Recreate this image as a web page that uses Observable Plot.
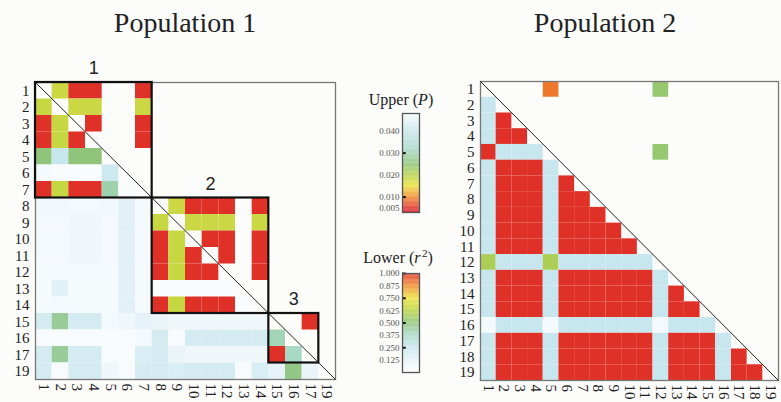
<!DOCTYPE html>
<html>
<head>
<meta charset="utf-8">
<script src="https://cdn.jsdelivr.net/npm/d3@7"></script>
<script src="https://cdn.jsdelivr.net/npm/@observablehq/plot@0.6"></script>
<style>
  html, body { margin: 0; padding: 0; background: #fcfcfa; }
  #root { position: relative; width: 781px; height: 402px; overflow: hidden; background: #fcfcfa; }
  #root > * { position: absolute; }
  .title { font-family: "Liberation Serif", serif; font-size: 28px; line-height: 28px; color: #222; text-align: center; width: 300px; }
  .ltitle { font-family: "Liberation Serif", serif; font-size: 16px; line-height: 16px; color: #222; text-align: center; width: 120px; white-space: nowrap; }
  .ltitle i { font-style: italic; }
  .ltitle sup { font-size: 11px; vertical-align: 6px; line-height: 0; }
</style>
</head>
<body>
<div id="root"></div>
<script>
// ---------------- DATA ----------------
const markers1 = ["1","2","3","4","5","6","7","8","9","10","11","12","13","14","15","16","17","19"];
const markers2 = ["1","2","3","4","5","6","7","8","9","10","11","12","13","14","15","16","17","18","19"];

// Population 1, lower triangle: r^2 for each row against the earlier markers
const pop1Lower = [
  [],
  [0.65],
  [1.0, 0.65],
  [1.0, 0.65, 1.0],
  [0.5, 0.25, 0.5, 0.5],
  [0.06, 0.03, 0.03, 0.03, 0.22],
  [1.0, 0.65, 1.0, 1.0, 0.42, 0.03],
  [0.07, 0.07, 0.06, 0.06, 0.07, 0.15, 0.06],
  [0.06, 0.06, 0.08, 0.08, 0.06, 0.15, 0.06, 0.65],
  [0.06, 0.06, 0.08, 0.08, 0.06, 0.15, 0.06, 1.0, 0.65],
  [0.06, 0.06, 0.08, 0.08, 0.06, 0.15, 0.06, 1.0, 0.65, 1.0],
  [0.05, 0.06, 0.06, 0.06, 0.05, 0.15, 0.05, 1.0, 0.65, 1.0, 1.0],
  [0.05, 0.14, 0.05, 0.05, 0.05, 0.14, 0.05, 0.03, 0.03, 0.03, 0.03, 0.03],
  [0.05, 0.06, 0.05, 0.05, 0.05, 0.14, 0.05, 1.0, 0.65, 1.0, 1.0, 1.0, 0.03],
  [0.2, 0.45, 0.2, 0.2, 0.06, 0.08, 0.13, 0.1, 0.08, 0.08, 0.08, 0.08, 0.08, 0.08],
  [0.04, 0.04, 0.04, 0.04, 0.04, 0.04, 0.06, 0.2, 0.04, 0.2, 0.2, 0.2, 0.2, 0.2, 0.4],
  [0.2, 0.45, 0.2, 0.2, 0.04, 0.04, 0.18, 0.2, 0.1, 0.08, 0.08, 0.08, 0.08, 0.08, 1.0, 0.38],
  [0.2, 0.04, 0.2, 0.2, 0.08, 0.04, 0.2, 0.2, 0.18, 0.2, 0.2, 0.2, 0.04, 0.18, 0.13, 0.48, 0.1]
];

// Population 1, upper triangle: P for each row against the later markers (null = not significant)
const pop1Upper = [
  [0.018, 0.005, 0.005, null, null, 0.005, null, null, null, null, null, null, null, null, null, null, null],
  [0.018, 0.018, null, null, 0.018, null, null, null, null, null, null, null, null, null, null, null],
  [0.005, null, null, 0.005, null, null, null, null, null, null, null, null, null, null, null],
  [null, null, 0.005, null, null, null, null, null, null, null, null, null, null, null],
  [null, null, null, null, null, null, null, null, null, null, null, null, null],
  [null, null, null, null, null, null, null, null, null, null, null, null],
  [null, null, null, null, null, null, null, null, null, null, null],
  [0.018, 0.005, 0.005, 0.005, null, 0.005, null, null, null, null],
  [0.018, 0.018, 0.018, null, 0.018, null, null, null, null],
  [0.005, 0.005, null, 0.005, null, null, null, null],
  [0.005, null, 0.005, null, null, null, null],
  [null, 0.005, null, null, null, null],
  [null, null, null, null, null],
  [null, null, null, null],
  [null, 0.005, null],
  [null, null],
  [null],
  []
];

// Population 1 haplotype blocks
const pop1Blocks = [
  {label: "1", first: "1", last: "7"},
  {label: "2", first: "8", last: "14"},
  {label: "3", first: "15", last: "17"}
];

// Population 2, lower triangle: r^2
const pop2Lower = [
  [],
  [0.25],
  [0.25, 1.0],
  [0.25, 1.0, 1.0],
  [1.0, 0.25, 0.25, 0.25],
  [0.25, 1.0, 1.0, 1.0, 0.25],
  [0.25, 1.0, 1.0, 1.0, 0.25, 1.0],
  [0.25, 1.0, 1.0, 1.0, 0.25, 1.0, 1.0],
  [0.25, 1.0, 1.0, 1.0, 0.25, 1.0, 1.0, 1.0],
  [0.25, 1.0, 1.0, 1.0, 0.25, 1.0, 1.0, 1.0, 1.0],
  [0.25, 1.0, 1.0, 1.0, 0.25, 1.0, 1.0, 1.0, 1.0, 1.0],
  [0.58, 0.25, 0.25, 0.25, 0.58, 0.25, 0.25, 0.25, 0.25, 0.25, 0.25],
  [0.25, 1.0, 1.0, 1.0, 0.25, 1.0, 1.0, 1.0, 1.0, 1.0, 1.0, 0.25],
  [0.25, 1.0, 1.0, 1.0, 0.25, 1.0, 1.0, 1.0, 1.0, 1.0, 1.0, 0.25, 1.0],
  [0.25, 1.0, 1.0, 1.0, 0.25, 1.0, 1.0, 1.0, 1.0, 1.0, 1.0, 0.25, 1.0, 1.0],
  [0.06, 0.25, 0.25, 0.25, 0.06, 0.25, 0.25, 0.25, 0.25, 0.25, 0.25, 0.06, 0.25, 0.25, 0.25],
  [0.25, 1.0, 1.0, 1.0, 0.25, 1.0, 1.0, 1.0, 1.0, 1.0, 1.0, 0.25, 1.0, 1.0, 1.0, 0.25],
  [0.25, 1.0, 1.0, 1.0, 0.25, 1.0, 1.0, 1.0, 1.0, 1.0, 1.0, 0.25, 1.0, 1.0, 1.0, 0.25, 1.0],
  [0.25, 1.0, 1.0, 1.0, 0.25, 1.0, 1.0, 1.0, 1.0, 1.0, 1.0, 0.25, 1.0, 1.0, 1.0, 0.25, 1.0, 1.0]
];

// Population 2, upper triangle: P
const pop2Upper = [
  [null, null, null, 0.009, null, null, null, null, null, null, 0.024, null, null, null, null, null, null, null],
  [null, null, null, null, null, null, null, null, null, null, null, null, null, null, null, null, null],
  [null, null, null, null, null, null, null, null, null, null, null, null, null, null, null, null],
  [null, null, null, null, null, null, null, null, null, null, null, null, null, null, null],
  [null, null, null, null, null, null, 0.024, null, null, null, null, null, null, null],
  [null, null, null, null, null, null, null, null, null, null, null, null, null],
  [null, null, null, null, null, null, null, null, null, null, null, null],
  [null, null, null, null, null, null, null, null, null, null, null],
  [null, null, null, null, null, null, null, null, null, null],
  [null, null, null, null, null, null, null, null, null],
  [null, null, null, null, null, null, null, null],
  [null, null, null, null, null, null, null],
  [null, null, null, null, null, null],
  [null, null, null, null, null],
  [null, null, null, null],
  [null, null, null],
  [null, null],
  [null],
  []
];

// Legend scales
const r2Stops = [0, 0.125, 0.25, 0.375, 0.5, 0.625, 0.75, 0.875, 1];
const r2Colors = ["#ffffff", "#e6f3f8", "#c8e6ee", "#a9d9c9", "#8fc47a", "#bcd444", "#ece13a", "#f08a2c", "#df3128"];
const r2Ticks = [0.125, 0.25, 0.375, 0.5, 0.625, 0.75, 0.875, 1.0];
const r2Marks = [0.25, 0.5, 0.75, 1.0];
const pStops = [0.005, 0.01, 0.015, 0.02, 0.025, 0.032, 0.04, 0.048];
const pColors = ["#df3128", "#f08a2c", "#ece13a", "#b5d24a", "#8fc47a", "#a9d9c9", "#c8e6ee", "#f8fbfc"];
const pTicks = [0.005, 0.01, 0.02, 0.03, 0.04];
const pMarks = [0.01, 0.03];

// ---------------- BUILD ----------------
function colorScale(domain, range) {
  if (Plot.scale) {
    try { return Plot.scale({color: {type: "linear", domain, range, interpolate: "rgb"}}).apply; } catch (e) {}
  }
  return d3.scaleLinear(domain, range).interpolate(d3.interpolateRgb).clamp(true);
}
const r2Color = colorScale(r2Stops, r2Colors);
const pColor = colorScale(pStops, pColors);

function cellsOf(lower, upper) {
  const out = [];
  lower.forEach((row, i) => row.forEach((v, j) => { if (v != null) out.push({row: i, col: j, fill: r2Color(v)}); }));
  upper.forEach((row, i) => row.forEach((v, k) => { if (v != null) out.push({row: i, col: i + 1 + k, fill: pColor(v)}); }));
  return out;
}

const serif = "'Liberation Serif', 'Times New Roman', serif";

function matrixPlot(markers, lower, upper, blocks, opts) {
  const n = markers.length;
  const centers = d3.range(n).map(i => i + 0.5);
  const fmt = d => markers[Math.floor(d)];
  const cells = cellsOf(lower, upper);
  const diag = [{x1: 0, y1: 0, x2: n, y2: n}];
  const blk = blocks.map(b => ({label: b.label, s: markers.indexOf(b.first), e: markers.indexOf(b.last) + 1}));
  return Plot.plot({
    width: opts.width, height: opts.height,
    marginLeft: opts.ml, marginRight: opts.mr, marginTop: opts.mt, marginBottom: opts.mb,
    style: {fontFamily: serif, fontSize: "15px", color: "#222", background: "transparent", overflow: "visible"},
    color: {type: "identity"},
    x: {domain: [0, n], ticks: centers, tickFormat: fmt, tickSize: 0, tickPadding: 4, tickRotate: 90, label: null},
    y: {domain: [0, n], reverse: true, ticks: centers, tickFormat: fmt, tickSize: 0, tickPadding: 6, label: null},
    marks: [
      Plot.rect(cells, {x1: "col", x2: d => d.col + 1, y1: "row", y2: d => d.row + 1, fill: "fill", inset: 0}),
      Plot.frame({stroke: "#777", strokeWidth: 1.3}),
      Plot.link(diag, {x1: "x1", y1: "y1", x2: "x2", y2: "y2", stroke: "#222", strokeWidth: 1}),
      Plot.rect(blk, {x1: "s", x2: "e", y1: "s", y2: "e", fill: "none", stroke: "#111", strokeWidth: 2.2}),
      Plot.text(blk, {x: d => (d.s + d.e) / 2, y: "s", text: "label", dy: -14, fontSize: 18,
        fontFamily: "'Liberation Sans', Arial, sans-serif", fill: "#222"})
    ]
  });
}

function legendPlot(stops, color, ticks, marks, fmtStr, opts) {
  const lo = opts.domain[0], hi = opts.domain[1];
  const step = (hi - lo) / 120;
  const slices = d3.range(120).map(i => ({a: lo + i * step, b: lo + (i + 1) * step}));
  return Plot.plot({
    width: 100, height: 120,
    marginLeft: 62, marginRight: 21, marginTop: 13, marginBottom: 8,
    style: {fontFamily: serif, fontSize: "9px", color: "#555", background: "transparent", overflow: "visible"},
    color: {type: "identity"},
    x: {domain: [0, 1], axis: null},
    y: {domain: opts.domain, ticks: ticks, tickFormat: d3.format(fmtStr), tickSize: 0, tickPadding: 3, label: null},
    marks: [
      Plot.rect(slices, {x1: 0, x2: 1, y1: "a", y2: "b", fill: d => color((d.a + d.b) / 2), inset: 0}),
      Plot.ruleY(marks, {x1: 0, x2: 0.22, stroke: "#111", strokeWidth: 2}),
      Plot.frame({stroke: "#555", strokeWidth: 1.3})
    ]
  });
}

const root = document.getElementById("root");
function place(el, left, top) { el.style.left = left + "px"; el.style.top = top + "px"; el.style.position = "absolute"; root.appendChild(el); return el; }
function div(cls, html, left, top) { const d = document.createElement("div"); d.className = cls; d.innerHTML = html; return place(d, left, top); }

div("title", "Population 1", 35, 9);
div("title", "Population 2", 455, 9);

place(matrixPlot(markers1, pop1Lower, pop1Upper, pop1Blocks,
  {width: 340, height: 402, ml: 35, mr: 5, mt: 82, mb: 23}), 0, 0);
place(matrixPlot(markers2, pop2Lower, pop2Upper, [],
  {width: 341, height: 402, ml: 40, mr: 3, mt: 81, mb: 22}), 440, 0);

div("ltitle", "Upper (<i>P</i>)", 341, 92);
place(legendPlot(pStops, pColor, pTicks, pMarks, ".3f", {domain: [0.003, 0.048]}), 340, 100);
div("ltitle", "Lower (<i>r</i>&#8202;<sup>2</sup>)", 338, 250);
place(legendPlot(r2Stops, r2Color, r2Ticks, r2Marks, ".3f", {domain: [0, 1]}), 340, 260);
</script>
</body>
</html>
